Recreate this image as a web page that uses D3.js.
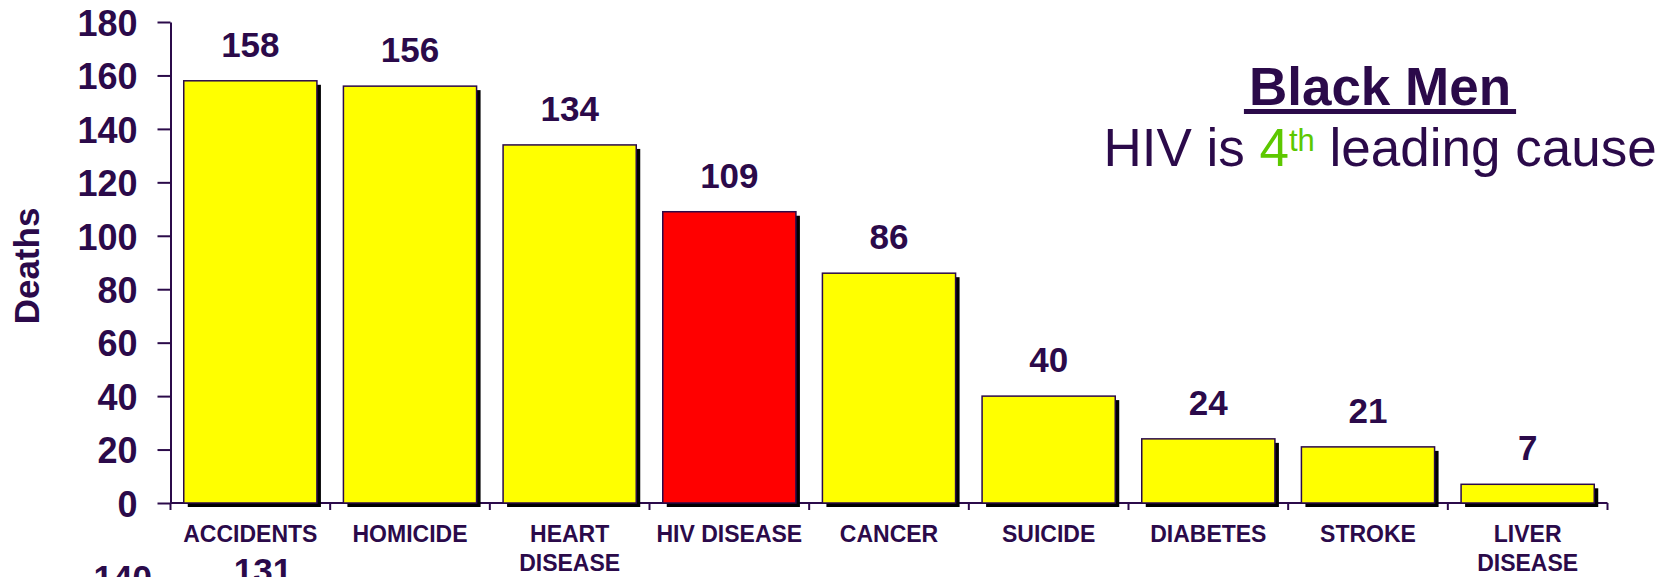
<!DOCTYPE html>
<html>
<head>
<meta charset="utf-8">
<script src="https://cdn.jsdelivr.net/npm/d3@7"></script>
<style>
  html, body { margin: 0; padding: 0; background: #ffffff; overflow: hidden; }
  svg { display: block; font-family: Arial, "Liberation Sans", sans-serif; }
</style>
</head>
<body>
<script>
const categories = ["ACCIDENTS", "HOMICIDE", "HEART\nDISEASE", "HIV DISEASE", "CANCER", "SUICIDE", "DIABETES", "STROKE", "LIVER\nDISEASE"];
const deaths = [158, 156, 134, 109, 86, 40, 24, 21, 7];
const highlightCategory = "HIV DISEASE";
const yTicks = [0, 20, 40, 60, 80, 100, 120, 140, 160, 180];
const yLabel = "Deaths";
const titleText = "Black Men";
const subtitleParts = ["HIV is ", "4", "th", " leading cause"];
// next chart (cut off at bottom of the slide, as in the original)
const nextChartTick = ["140"];
const nextChartValue = ["131"];

const W = 1671, H = 577;
const ink = "#2B0A4A";
const green = "#5DC800";

const svg = d3.select("body").append("svg").attr("width", W).attr("height", H);

const x = d3.scaleBand().domain(categories).range([170.5, 1607.5]).padding(0);
const y = d3.scaleLinear().domain([0, 180]).range([503, 22]);
const barW = x.bandwidth() * 0.834;
const barOff = (x.bandwidth() - barW) / 2;

// Y axis
const yAxis = d3.axisLeft(y).tickValues(yTicks).tickSize(13).tickSizeOuter(0).tickPadding(20);
const gy = svg.append("g").attr("transform", "translate(170.5,0)").call(yAxis);
gy.select(".domain").attr("stroke", ink).attr("stroke-width", 2);
gy.selectAll(".tick line").attr("stroke", ink).attr("stroke-width", 2);
gy.selectAll(".tick text").attr("fill", ink).attr("font-size", 36).attr("font-weight", "bold")
  .attr("font-family", 'Arial, "Liberation Sans", sans-serif').attr("dy", "0.37em");

// X axis line + ticks at band boundaries
const bounds = categories.map(c => x(c)).concat([x(categories[categories.length - 1]) + x.bandwidth()]);
svg.append("line").attr("x1", 170.5).attr("x2", 1607.5).attr("y1", y(0)).attr("y2", y(0))
  .attr("stroke", ink).attr("stroke-width", 2);
svg.append("g").selectAll("line").data(bounds).join("line")
  .attr("x1", d => d).attr("x2", d => d).attr("y1", y(0)).attr("y2", y(0) + 7)
  .attr("stroke", ink).attr("stroke-width", 2);

// Bars: shadow then bar
const bars = svg.append("g");
bars.selectAll("rect.shadow").data(categories).join("rect").attr("class", "shadow")
  .attr("x", c => x(c) + barOff + 4).attr("y", (c, i) => y(deaths[i]) + 4)
  .attr("width", barW).attr("height", (c, i) => y(0) - y(deaths[i]))
  .attr("fill", "#000000");
bars.selectAll("rect.bar").data(categories).join("rect").attr("class", "bar")
  .attr("x", c => x(c) + barOff).attr("y", (c, i) => y(deaths[i]))
  .attr("width", barW).attr("height", (c, i) => y(0) - y(deaths[i]))
  .attr("fill", c => c === highlightCategory ? "#FF0000" : "#FFFF00")
  .attr("stroke", ink).attr("stroke-width", 1.5);

// Value labels
svg.append("g").selectAll("text").data(categories).join("text")
  .attr("x", c => x(c) + x.bandwidth() / 2).attr("y", (c, i) => y(deaths[i]) - 24)
  .attr("text-anchor", "middle").attr("font-size", 35).attr("font-weight", "bold").attr("fill", ink)
  .text((c, i) => deaths[i]);

// Category labels
const cl = svg.append("g").selectAll("text").data(categories).join("text")
  .attr("x", c => x(c) + x.bandwidth() / 2).attr("y", 542)
  .attr("text-anchor", "middle").attr("font-size", 23).attr("font-weight", "bold").attr("fill", ink);
cl.each(function(c) {
  const t = d3.select(this);
  c.split("\n").forEach((line, j) => {
    t.append("tspan").attr("x", x(c) + x.bandwidth() / 2).attr("dy", j === 0 ? 0 : 28.5).text(line);
  });
});

// Y label
svg.append("text").attr("transform", "translate(39,266) rotate(-90)")
  .attr("text-anchor", "middle").attr("font-size", 35).attr("font-weight", "bold").attr("fill", ink)
  .text(yLabel);

// Title
const title = svg.append("text").attr("x", 1380).attr("y", 105).attr("text-anchor", "middle")
  .attr("font-size", 53).attr("font-weight", "bold").attr("fill", ink).text(titleText);
const tw = title.node().getComputedTextLength();
svg.append("rect").attr("x", 1380 - tw / 2 - 5).attr("y", 109).attr("width", tw + 10).attr("height", 5).attr("fill", ink);

// Subtitle
const sub = svg.append("text").attr("x", 1380).attr("y", 166).attr("text-anchor", "middle")
  .attr("font-size", 53).attr("fill", ink);
sub.append("tspan").text(subtitleParts[0]);
sub.append("tspan").attr("fill", green).text(subtitleParts[1]);
sub.append("tspan").attr("fill", green).attr("font-size", 31).attr("dy", -15).text(subtitleParts[2]);
sub.append("tspan").attr("dy", 15).text(subtitleParts[3]);

// Next chart (partially visible at the bottom edge, as in the original)
svg.append("text").attr("x", 152).attr("y", 590).attr("text-anchor", "end")
  .attr("font-size", 35).attr("font-weight", "bold").attr("fill", ink).text(nextChartTick[0]);
svg.append("text").attr("x", 263).attr("y", 583).attr("text-anchor", "middle")
  .attr("font-size", 35).attr("font-weight", "bold").attr("fill", ink).text(nextChartValue[0]);
</script>
</body>
</html>
